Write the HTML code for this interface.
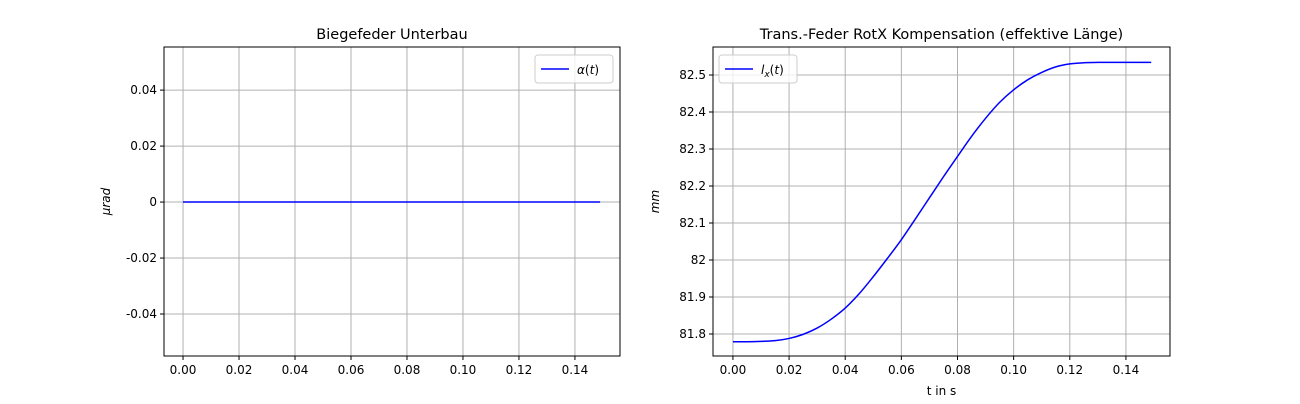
<!DOCTYPE html>
<html><head><meta charset="utf-8"><style>
body{margin:0;background:#fff;font-family:"DejaVu Sans","Liberation Sans",sans-serif;}
svg text{font-family:"DejaVu Sans","Liberation Sans",sans-serif;}
</style></head><body>
<svg id="c" width="1300" height="400" xmlns="http://www.w3.org/2000/svg"></svg>
<script>
const leftTicksX=[0,0.02,0.04,0.06,0.08,0.10,0.12,0.14];
const leftTickLabelsX=["0.00","0.02","0.04","0.06","0.08","0.10","0.12","0.14"];
const leftTicksY=[0.04,0.02,0,-0.02,-0.04];
const leftTickLabelsY=["0.04","0.02","0","-0.02","-0.04"];
const leftT=[0,0.149];
const leftAlpha=[0,0];
const rightTicksY=[81.8,81.9,82,82.1,82.2,82.3,82.4,82.5];
const rightTickLabelsY=["81.8","81.9","82","82.1","82.2","82.3","82.4","82.5"];
const rightT=[0,0.005,0.01,0.015,0.02,0.025,0.03,0.035,0.04,0.045,0.05,0.055,0.06,0.065,0.07,0.075,0.08,0.085,0.09,0.095,0.1,0.105,0.11,0.115,0.12,0.125,0.13,0.135,0.14,0.145,0.149];
const rightL=[81.779,81.779,81.780,81.782,81.788,81.799,81.816,81.840,81.870,81.909,81.955,82.004,82.055,82.111,82.168,82.225,82.280,82.334,82.383,82.426,82.460,82.487,82.507,82.522,82.530,82.533,82.534,82.534,82.534,82.534,82.534];

const svg=document.getElementById('c');
const NS="http://www.w3.org/2000/svg";
function mk(tag,attrs,parent){const e=document.createElementNS(NS,tag);for(const k in attrs)e.setAttribute(k,attrs[k]);(parent||svg).appendChild(e);return e;}
function smoothPath(P){
  if(P.length<3)return P.map((p,i)=>(i?'L':'M')+p[0].toFixed(2)+','+p[1].toFixed(2)).join(' ');
  let d='M'+P[0][0].toFixed(2)+','+P[0][1].toFixed(2);
  for(let i=0;i<P.length-1;i++){
    const p0=P[i-1]||P[i],p1=P[i],p2=P[i+1],p3=P[i+2]||P[i+1];
    const c1=[p1[0]+(p2[0]-p0[0])/6,p1[1]+(p2[1]-p0[1])/6];
    const c2=[p2[0]-(p3[0]-p1[0])/6,p2[1]-(p3[1]-p1[1])/6];
    d+=` C${c1[0].toFixed(2)},${c1[1].toFixed(2)} ${c2[0].toFixed(2)},${c2[1].toFixed(2)} ${p2[0].toFixed(2)},${p2[1].toFixed(2)}`;
  }
  return d;
}

function panel(o){
  const g=mk('g',{});
  
  
  const sx=v=>o.x0+(v-o.xmin)/(o.xmax-o.xmin)*(o.x1-o.x0);
  const sy=v=>o.y1-(v-o.ymin)/(o.ymax-o.ymin)*(o.y1-o.y0);
  leftTicksX.forEach((t,i)=>{
    const X=sx(t);
    const l=mk('line',{x1:X,x2:X,y1:o.y0,y2:o.y1,stroke:'#b0b0b0','stroke-width':1},g);
    
    
    mk('line',{x1:X,x2:X,y1:o.y1,y2:o.y1+4,stroke:'#000'},g);
    const tx=mk('text',{x:X,y:o.y1+18,'font-size':12,'text-anchor':'middle'},g);
    tx.textContent=leftTickLabelsX[i];
    
    
  });
  o.ticksY.forEach((t,i)=>{
    const Y=sy(t);
    const l=mk('line',{x1:o.x0,x2:o.x1,y1:Y,y2:Y,stroke:'#b0b0b0','stroke-width':1},g);
    
    
    mk('line',{x1:o.x0-4,x2:o.x0,y1:Y,y2:Y,stroke:'#000'},g);
    const tx=mk('text',{x:o.x0-7,y:Y+4,'font-size':12,'text-anchor':'end'},g);
    tx.textContent=o.labelsY[i];
    
    
  });
  const pts=o.xs.map((v,i)=>[sx(v),sy(o.ys[i])]);
  const p=mk('path',{d:smoothPath(pts),fill:'none',stroke:'#0000ff','stroke-width':1.5},g);
  
  
  const fr=mk('rect',{x:o.x0,y:o.y0,width:o.x1-o.x0,height:o.y1-o.y0,fill:'none',stroke:'#000','stroke-width':1},g);
  
  
  const ti=mk('text',{x:(o.x0+o.x1)/2,y:o.y0-8,'font-size':14.5,'text-anchor':'middle'},g);
  ti.textContent=o.title;
  
  
  const yl=mk('text',{x:0,y:0,'font-size':12,'text-anchor':'middle','font-style':'italic',transform:`translate(${o.x0-54},${(o.y0+o.y1)/2}) rotate(-90)`},g);
  yl.textContent=o.ylabel;
  
  
  if(o.xlabel){
    const xl=mk('text',{x:(o.x0+o.x1)/2,y:o.y1+39,'font-size':12,'text-anchor':'middle'},g);
    xl.textContent=o.xlabel;
    
    
  }
  const lg=mk('g',{},g);
  
  
  mk('rect',{x:o.lx,y:o.y0+8,width:o.lw,height:28,rx:3,fill:'#fff','fill-opacity':0.8,stroke:'#ccc'},lg);
  mk('line',{x1:o.lx+6,x2:o.lx+34,y1:o.y0+22,y2:o.y0+22,stroke:'#0000ff','stroke-width':1.5},lg);
  const lt=mk('text',{x:o.lx+42,y:o.y0+27,'font-size':12},lg);
  lt.innerHTML=o.legendHtml;
  
  
}
panel({name:'left-chart',x0:164,x1:620,y0:47,y1:356,xmin:-0.0068,xmax:0.1561,ymin:-0.0550,ymax:0.0554,
  ticksY:leftTicksY,labelsY:leftTickLabelsY,xs:leftT,ys:leftAlpha,lineName:'alpha-line',
  title:'Biegefeder Unterbau',ylabel:'μrad',xlabel:'',lx:535,lw:78,
  legendHtml:'<tspan font-style="italic">α</tspan>(<tspan font-style="italic">t</tspan>)'});
panel({name:'right-chart',x0:713,x1:1170,y0:47,y1:356,xmin:-0.0071,xmax:0.1557,ymin:81.7405,ymax:82.5757,
  ticksY:rightTicksY,labelsY:rightTickLabelsY,xs:rightT,ys:rightL,lineName:'lx-line',
  title:'Trans.-Feder RotX Kompensation (effektive Länge)',ylabel:'mm',xlabel:'t in s',lx:719,lw:78,
  legendHtml:'<tspan font-style="italic">l</tspan><tspan font-style="italic" font-size="9" dy="3">x</tspan><tspan dy="-3">(</tspan><tspan font-style="italic">t</tspan>)'});
</script>
</body></html>
